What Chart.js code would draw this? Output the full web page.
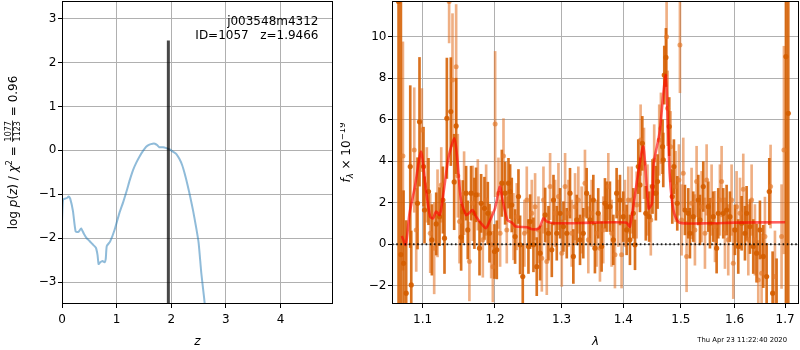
<!DOCTYPE html>
<html>
<head>
<meta charset="utf-8">
<script src="https://cdn.jsdelivr.net/npm/chart.js@4.4.0/dist/chart.umd.min.js"></script>
<style>
  html, body { margin: 0; padding: 0; background: #fff; }
  #wrap { position: relative; width: 800px; height: 350px; }
  #pz { position: absolute; left: 0; top: 0; width: 340px; height: 350px; }
  #spec { position: absolute; left: 340px; top: 0; width: 460px; height: 350px; }
</style>
</head>
<body>
<div id="wrap">
  <canvas id="pz" width="340" height="350"></canvas>
  <canvas id="spec" width="460" height="350"></canvas>
</div>
<script>
// ---- left panel: log p(z) ----
const zGrid = [0.00, 0.02, 0.06, 0.10, 0.12, 0.15, 0.20, 0.25, 0.30, 0.35,
  0.40, 0.45, 0.50, 0.56, 0.62, 0.65, 0.67, 0.70, 0.74, 0.78,
  0.80, 0.82, 0.88, 0.96, 1.05, 1.12, 1.18, 1.24, 1.30, 1.36,
  1.42, 1.48, 1.54, 1.60, 1.66, 1.70, 1.74, 1.78, 1.85, 1.91,
  1.97, 2.03, 2.09, 2.15, 2.20, 2.25, 2.30, 2.35, 2.40, 2.45,
  2.50, 2.55, 2.60, 2.65, 2.75];
const logPz = [-1.60, -1.12, -1.10, -1.08, -1.05, -1.10, -1.38, -1.85, -1.86, -1.78,
  -1.90, -2.00, -2.06, -2.14, -2.22, -2.38, -2.59, -2.55, -2.52, -2.55,
  -2.48, -2.18, -2.08, -1.82, -1.43, -1.18, -0.94, -0.68, -0.45, -0.28,
  -0.14, -0.02, 0.08, 0.13, 0.15, 0.15, 0.12, 0.07, 0.07, 0.05,
  0.02, -0.03, -0.08, -0.20, -0.34, -0.55, -0.80, -1.08, -1.38, -1.72,
  -2.10, -2.80, -3.35, -3.95, -5.20];
const zBest = 1.9466;
const zTicks = [0, 1, 2, 3, 4];
const pzTicks = [-3, -2, -1, 0, 1, 2, 3];

// ---- right panel: spectrum, flux in units of 1e-19 ----
const lamDark = [1.0688, 1.0718, 1.0752, 1.0786, 1.0839, 1.0852, 1.0934, 1.0960, 1.1013, 1.1026,
  1.1079, 1.1124, 1.1182, 1.1227, 1.1272, 1.1294, 1.1326, 1.1380, 1.1426, 1.1453,
  1.1522, 1.1545, 1.1591, 1.1614, 1.1660, 1.1707, 1.1731, 1.1779, 1.1802, 1.1849,
  1.1897, 1.1921, 1.1992, 1.2026, 1.2099, 1.2147, 1.2196, 1.2220, 1.2244, 1.2293,
  1.2343, 1.2367, 1.2407, 1.2492, 1.2517, 1.2567, 1.2617, 1.2668, 1.2745, 1.2796,
  1.2847, 1.2873, 1.2924, 1.2976, 1.3028, 1.3080, 1.3131, 1.3184, 1.3237, 1.3290,
  1.3342, 1.3396, 1.3450, 1.3504, 1.3530, 1.3584, 1.3639, 1.3694, 1.3721, 1.3776,
  1.3832, 1.3887, 1.3943, 1.3998, 1.4055, 1.4111, 1.4168, 1.4197, 1.4253, 1.4282,
  1.4322, 1.4382, 1.4440, 1.4499, 1.4557, 1.4587, 1.4675, 1.4687, 1.4705, 1.4734,
  1.4793, 1.4847, 1.4876, 1.4936, 1.5074, 1.5135, 1.5165, 1.5226, 1.5318, 1.5349,
  1.5410, 1.5503, 1.5534, 1.5596, 1.5659, 1.5690, 1.5784, 1.5848, 1.5911, 1.6007,
  1.6071, 1.6136, 1.6201, 1.6233, 1.6298, 1.6363, 1.6428, 1.6495, 1.6561, 1.6628,
  1.6681, 1.6748, 1.6828, 1.7018, 1.7066];
const fluxDark = [11.7, -0.5, -0.92, -2.36, 3.74, -1.96, 1.97, 5.90, 3.74, 1.65,
  2.54, 0.21, 0.98, 1.33, 2.13, 0.29, 6.07, 6.39, 3.00, 5.70,
  0.34, 1.57, 2.46, 0.69, 2.46, 1.49, 2.38, -0.19, 1.97, 1.73,
  1.49, 0.53, -0.35, -0.27, 2.94, 2.46, 2.94, 2.54, 1.89, 0.37,
  2.30, -0.03, -1.56, -0.11, 1.09, -0.03, -1.08, -0.43, 1.41, 0.53,
  -0.27, 2.13, 0.53, 1.49, 0.85, 0.53, 2.46, -0.59, 1.17, 0.21,
  0.53, 2.46, 1.17, 2.13, -0.19, 1.49, -0.11, 1.97, 1.81, 1.81,
  0.21, 2.46, 2.13, 1.33, 0.69, 0.21, 1.49, -0.03, 3.74, 2.86,
  4.86, 1.49, 1.33, 2.78, 2.46, 3.02, 4.70, 4.06, 8.15, 9.00,
  5.67, 2.30, 3.74, 1.97, 1.65, 1.49, 0.53, 1.33, 2.13, 1.17,
  2.78, 1.81, 1.01, 1.33, -0.19, 1.49, 1.49, 1.65, 1.33, 0.69,
  -0.11, 1.01, 0.53, 1.49, 0.85, -0.11, -0.43, 0.69, -0.59, -1.56,
  2.54, -2.36, -3.20, 9.04, 6.31];
const errDark = [16, 16, 3.5, 3.5, 3.9, 2.6, 2.2, 3.1, 1.9, 1.6,
  1.6, 1.7, 1.5, 1.4, 1.6, 1.7, 2.9, 2.6, 2.3, 2.3,
  1.6, 1.5, 1.3, 1.4, 1.3, 1.7, 1.3, 1.3, 1.4, 1.5,
  1.5, 1.4, 1.3, 1.4, 1.6, 1.5, 1.2, 1.3, 1.3, 1.3,
  1.3, 1.4, 1.5, 1.3, 1.3, 1.3, 1.4, 1.3, 1.3, 1.3,
  1.3, 1.2, 1.3, 1.2, 1.2, 1.2, 1.2, 1.3, 1.2, 1.2,
  1.2, 1.2, 1.2, 1.2, 1.2, 1.2, 1.2, 1.2, 1.2, 1.2,
  1.2, 1.2, 1.2, 1.2, 1.2, 1.2, 1.2, 1.2, 1.3, 1.3,
  1.3, 1.3, 1.2, 1.3, 1.3, 1.3, 1.3, 1.3, 1.4, 1.4,
  1.4, 1.3, 1.3, 1.3, 1.2, 1.2, 1.2, 1.2, 1.2, 1.2,
  1.2, 1.2, 1.2, 1.2, 1.2, 1.2, 1.2, 1.2, 1.2, 1.2,
  1.3, 1.3, 1.3, 1.3, 1.3, 1.3, 1.4, 1.4, 1.5, 1.6,
  1.6, 2.0, 2.5, 14, 14];

const lamLight = [1.0744, 1.0891, 1.0917, 1.0991, 1.1057, 1.1102, 1.1155, 1.1200, 1.1250, 1.1357,
  1.1403, 1.1453, 1.1476, 1.1499, 1.1563, 1.1637, 1.1684, 1.1755, 1.1826, 1.1873,
  1.1945, 1.1969, 1.2002, 1.2050, 1.2074, 1.2123, 1.2171, 1.2269, 1.2318, 1.2432,
  1.2467, 1.2542, 1.2592, 1.2643, 1.2694, 1.2719, 1.2770, 1.2821, 1.2898, 1.2950,
  1.3002, 1.3054, 1.3106, 1.3158, 1.3211, 1.3263, 1.3316, 1.3369, 1.3423, 1.3477,
  1.3557, 1.3612, 1.3666, 1.3749, 1.3804, 1.3859, 1.3915, 1.3970, 1.4026, 1.4083,
  1.4140, 1.4225, 1.4293, 1.4351, 1.4411, 1.4469, 1.4528, 1.4616, 1.4646, 1.4746,
  1.4764, 1.4817, 1.4906, 1.4966, 1.4984, 1.5014, 1.5044, 1.5104, 1.5195, 1.5256,
  1.5287, 1.5379, 1.5441, 1.5472, 1.5565, 1.5628, 1.5721, 1.5753, 1.5816, 1.5879,
  1.5943, 1.5975, 1.6039, 1.6104, 1.6168, 1.6266, 1.6331, 1.6396, 1.6462, 1.6528,
  1.6594, 1.6707, 1.6795, 1.6929, 1.6977];
const fluxLight = [4.25, 4.54, 0.69, 5.50, 2.86, 0.53, -0.19, 1.49, 2.86, 11.7,
  7.91, 8.55, 3.30, 1.09, 2.46, -0.83, 1.97, 2.38, 0.21, 2.13,
  -0.03, -1.08, 5.79, 2.46, 0.53, 4.25, 0.69, 0.85, 1.33, 0.53,
  2.13, 1.49, 1.81, 0.69, -0.67, 2.13, -0.83, 2.78, 1.49, 2.30,
  -0.43, 2.78, 1.49, 0.53, 1.81, 2.13, 1.17, 2.94, 0.21, 1.49,
  0.53, -0.19, 0.69, 2.78, 0.53, -0.51, 1.49, -0.51, 1.49, 2.13,
  2.13, 1.89, 5.02, 3.90, 2.13, 1.17, 4.06, 5.02, 5.59, 10.0,
  6.55, 4.70, 2.78, 3.10, 9.60, 1.17, 3.42, -0.59, 1.97, 0.69,
  3.02, 1.81, 0.53, 3.10, 2.13, 0.85, 2.13, 3.02, 0.53, 0.21,
  2.13, -0.92, 1.81, 1.49, 2.65, 0.21, 2.13, 0.21, -1.72, -1.40,
  0.37, 2.78, -1.56, 0.37, 4.54];
const errLight = [5.5, 3.0, 2.0, 2.0, 1.8, 1.9, 2.2, 2.1, 1.8, 2.0,
  3.2, 3.0, 2.0, 2.0, 2.0, 1.9, 1.8, 1.7, 1.8, 1.7,
  1.6, 1.7, 3.5, 1.7, 1.6, 1.8, 1.6, 1.6, 1.6, 1.6,
  1.6, 1.6, 1.6, 1.6, 1.6, 1.6, 1.6, 1.6, 1.6, 1.6,
  1.6, 1.6, 1.6, 1.6, 1.6, 1.6, 1.6, 1.6, 1.6, 1.6,
  1.6, 1.6, 1.6, 1.6, 1.6, 1.6, 1.6, 1.6, 1.6, 1.6,
  1.6, 1.6, 1.7, 1.7, 1.7, 1.7, 1.7, 1.7, 1.7, 1.9,
  1.8, 1.7, 1.7, 1.7, 2.3, 1.7, 1.7, 1.7, 1.7, 1.7,
  1.7, 1.7, 1.7, 1.7, 1.7, 1.7, 1.7, 1.7, 1.7, 1.7,
  1.7, 1.7, 1.7, 1.7, 1.7, 1.7, 1.7, 1.7, 1.9, 1.9,
  1.9, 2.0, 2.2, 2.5, 5.0];

const modelLam = [1.073, 1.078, 1.083, 1.090, 1.098, 1.104, 1.110, 1.114, 1.118, 1.123,
  1.128, 1.135, 1.143, 1.147, 1.152, 1.159, 1.163, 1.168, 1.173, 1.180,
  1.187, 1.191, 1.200, 1.207, 1.211, 1.218, 1.225, 1.230, 1.247, 1.255,
  1.265, 1.272, 1.277, 1.290, 1.350, 1.405, 1.411, 1.425, 1.434, 1.443,
  1.449, 1.452, 1.462, 1.4728, 1.477, 1.480, 1.484, 1.489, 1.498, 1.550,
  1.600, 1.700];
const modelFlux = [0.40, -0.03, 1.49, 2.78, 4.46, 2.78, 1.33, 1.25, 1.57, 1.41,
  2.46, 4.22, 5.10, 4.06, 2.13, 1.41, 1.49, 1.65, 1.33, 1.01,
  0.77, 1.01, 1.73, 2.78, 2.13, 1.17, 1.04, 0.85, 0.82, 0.72,
  0.77, 1.25, 1.09, 1.01, 1.04, 1.04, 0.85, 3.40, 4.70, 1.73,
  1.97, 3.90, 5.35, 8.15, 5.67, 3.42, 2.13, 1.41, 1.04, 1.01,
  1.04, 1.06];
const lamTicks = [1.1, 1.2, 1.3, 1.4, 1.5, 1.6, 1.7];
const fluxTicks = [-2, 0, 2, 4, 6, 8, 10];
const lamMin = 1.0604, lamMax = 1.7287;

Chart.defaults.font.family = '"DejaVu Sans"';
Chart.defaults.font.size = 12;
Chart.defaults.color = '#000';

const GRID = '#b0b0b0';
const minus = v => String(v).replace('-', '\u2212');
const fixTicks = vals => scale => { scale.ticks = vals.map(v => ({value: v})); };
// fixed box size, and no extra room reserved for edge labels
const fixSize = (key, px) => s => {
  s[key] = px;
  s.paddingTop = s.paddingBottom = s.paddingLeft = s.paddingRight = 0;
};

function axis(extra) {
  return Object.assign({
    bounds: 'data',
    offset: false,
    grid: {color: GRID, lineWidth: 1, offset: false, drawTicks: true, tickLength: 4, tickColor: '#000', tickWidth: 1},
    border: {display: false},
    ticks: {padding: 5, autoSkip: false, maxRotation: 0, minRotation: 0}
  }, extra);
}

const frame = {
  id: 'frame',
  afterDraw(chart) {
    const {ctx, chartArea: a} = chart;
    ctx.save();
    ctx.strokeStyle = '#000';
    ctx.lineWidth = 1;
    ctx.strokeRect(Math.round(a.left) + 0.5, Math.round(a.top) + 0.5,
      Math.round(a.right - a.left) - 1, Math.round(a.bottom - a.top) - 1);
    ctx.restore();
  }
};

function runsWidth(ctx, runs) {
  let w = 0;
  runs.forEach(r => { ctx.font = r[1]; r.w = r.w || ctx.measureText(r[0]).width; w += r.w; });
  return w;
}

const pzText = {
  id: 'pzText',
  afterDraw(chart) {
    const {ctx, chartArea: a} = chart;
    ctx.save();
    ctx.fillStyle = '#000';
    ctx.textBaseline = 'alphabetic';
    ctx.font = '12px "DejaVu Sans"';
    ctx.textAlign = 'right';
    ctx.fillText('j003548m4312', 318.5, 25);
    ctx.fillText('ID=1057   z=1.9466', 318.5, 39);

    ctx.textAlign = 'center';
    ctx.font = 'italic 12px "DejaVu Sans"';
    ctx.fillText('z', (a.left + a.right) / 2, 345);

    // y title with a stacked fraction
    const R = '12px "DejaVu Sans"', I = 'italic 12px "DejaVu Sans"', S = '8px "DejaVu Sans"';
    const before = [['log ', R], ['p', I], ['(', R], ['z', I], [')', R], [' / ', R], ['\u03c7', I], ['2', S, -5], [' = ', R]];
    const after = [[' = 0.96', R]];
    ctx.font = S;
    const fw = Math.max(ctx.measureText('1077').width, ctx.measureText('1123').width) + 2;
    const total = runsWidth(ctx, before) + fw + runsWidth(ctx, after);
    ctx.translate(16.5, (a.top + a.bottom) / 2);
    ctx.rotate(-Math.PI / 2);
    ctx.textAlign = 'left';
    let x = -total / 2;
    before.forEach(r => { ctx.font = r[1]; ctx.fillText(r[0], x, r[2] || 0); x += r.w; });
    ctx.font = S;
    ctx.textAlign = 'center';
    ctx.fillText('1077', x + fw / 2, -5.5);
    ctx.fillText('1123', x + fw / 2, 3);
    ctx.fillRect(x + 0.5, -4.4, fw - 1, 0.8);
    ctx.textAlign = 'left';
    x += fw;
    after.forEach(r => { ctx.font = r[1]; ctx.fillText(r[0], x, r[2] || 0); x += r.w; });
    ctx.restore();
  }
};

const specText = {
  id: 'specText',
  afterDraw(chart) {
    const {ctx, chartArea: a} = chart;
    ctx.save();
    ctx.fillStyle = '#000';
    ctx.textBaseline = 'alphabetic';
    ctx.textAlign = 'center';
    ctx.font = 'italic 12px "DejaVu Sans"';
    ctx.fillText('\u03bb', (a.left + a.right) / 2, 345);

    ctx.textAlign = 'right';
    ctx.font = '6.8px "DejaVu Sans"';
    ctx.fillText('Thu Apr 23 11:22:40 2020', 447, 341.5);

    const R = '12px "DejaVu Sans"', I = 'italic 12px "DejaVu Sans"', S = '8.5px "DejaVu Sans"', SI = 'italic 8.5px "DejaVu Sans"';
    const runs = [['f', I], ['\u03bb', SI, 3], [' \u00d7 10', R], ['\u221219', S, -5]];
    const total = runsWidth(ctx, runs);
    ctx.translate(10, (a.top + a.bottom) / 2);
    ctx.rotate(-Math.PI / 2);
    ctx.textAlign = 'left';
    let x = -total / 2;
    runs.forEach(r => { ctx.font = r[1]; ctx.fillText(r[0], x, r[2] || 0); x += r.w; });
    ctx.restore();
  }
};

new Chart(document.getElementById('pz'), {
  type: 'line',
  data: {
    datasets: [
      {
        data: [{x: zBest, y: -3.5}, {x: zBest, y: 2.5}],
        borderColor: 'rgba(0,0,0,0.72)', borderWidth: 3, pointRadius: 0, clip: 0, order: 0
      },
      {
        data: zGrid.map((z, i) => ({x: z, y: logPz[i]})),
        borderColor: 'rgba(31,119,180,0.5)', borderWidth: 2, pointRadius: 0, tension: 0.2,
        clip: 0, order: 1
      }
    ]
  },
  options: {
    responsive: false, animation: false, devicePixelRatio: 1, events: [],
    layout: {padding: {left: 0, right: 7, top: 1, bottom: 0}, autoPadding: false},
    plugins: {legend: {display: false}, tooltip: {enabled: false}},
    scales: {
      x: axis({type: 'linear', min: 0, max: 4.96, afterBuildTicks: fixTicks(zTicks),
        afterFit: fixSize('height', 46)}),
      y: axis({type: 'linear', min: -3.5, max: 3.4, afterBuildTicks: fixTicks(pzTicks),
        afterFit: fixSize('width', 62),
        ticks: {padding: 1.5, autoSkip: false, callback: v => minus(v)}})
    }
  },
  plugins: [frame, pzText]
});

const pts = (lam, f) => lam.map((x, i) => ({x, y: f[i]}));
const bars = (lam, f, e) => lam.map((x, i) => ({x, y: [f[i] - e[i], f[i] + e[i]]}));

new Chart(document.getElementById('spec'), {
  type: 'scatter',
  data: {
    datasets: [
      {
        type: 'line', data: [{x: lamMin, y: 0}, {x: lamMax, y: 0}],
        borderColor: 'rgba(0,0,0,0.85)', borderWidth: 1.8, borderDash: [1.6, 2.6],
        pointRadius: 0, clip: 0, order: 0
      },
      {
        type: 'line', data: pts(modelLam, modelFlux),
        borderColor: 'rgba(255,0,0,0.62)', borderWidth: 2.6, pointRadius: 0,
        tension: 0.25, clip: 0, order: 1
      },
      {
        data: pts(lamDark, fluxDark), pointRadius: 2.6, pointBorderWidth: 0,
        pointBackgroundColor: 'rgba(213,94,0,0.92)', clip: 0, order: 2
      },
      {
        data: pts(lamLight, fluxLight), pointRadius: 2.5, pointBorderWidth: 0,
        pointBackgroundColor: 'rgba(228,120,40,0.65)', clip: 0, order: 3
      },
      {
        type: 'bar', data: bars(lamDark, fluxDark, errDark), grouped: false, barThickness: 2,
        backgroundColor: 'rgba(213,94,0,0.88)', borderWidth: 0, clip: 0, order: 4
      },
      {
        type: 'bar', data: bars(lamLight, fluxLight, errLight), grouped: false, barThickness: 2,
        backgroundColor: 'rgba(225,110,30,0.55)', borderWidth: 0, clip: 0, order: 5
      }
    ]
  },
  options: {
    responsive: false, animation: false, devicePixelRatio: 1, events: [],
    layout: {padding: {left: 0, right: 1, top: 1, bottom: 0}, autoPadding: false},
    plugins: {legend: {display: false}, tooltip: {enabled: false}},
    scales: {
      x: axis({type: 'logarithmic', min: lamMin, max: lamMax, afterBuildTicks: fixTicks(lamTicks),
        afterFit: fixSize('height', 46),
        ticks: {padding: 5, autoSkip: false, maxRotation: 0, callback: v => v.toFixed(1)}}),
      y: axis({type: 'linear', min: -2.88, max: 11.72, afterBuildTicks: fixTicks(fluxTicks),
        afterFit: fixSize('width', 52),
        ticks: {padding: 1.5, autoSkip: false, callback: v => minus(v)}})
    }
  },
  plugins: [frame, specText]
});
</script>
</body>
</html>
